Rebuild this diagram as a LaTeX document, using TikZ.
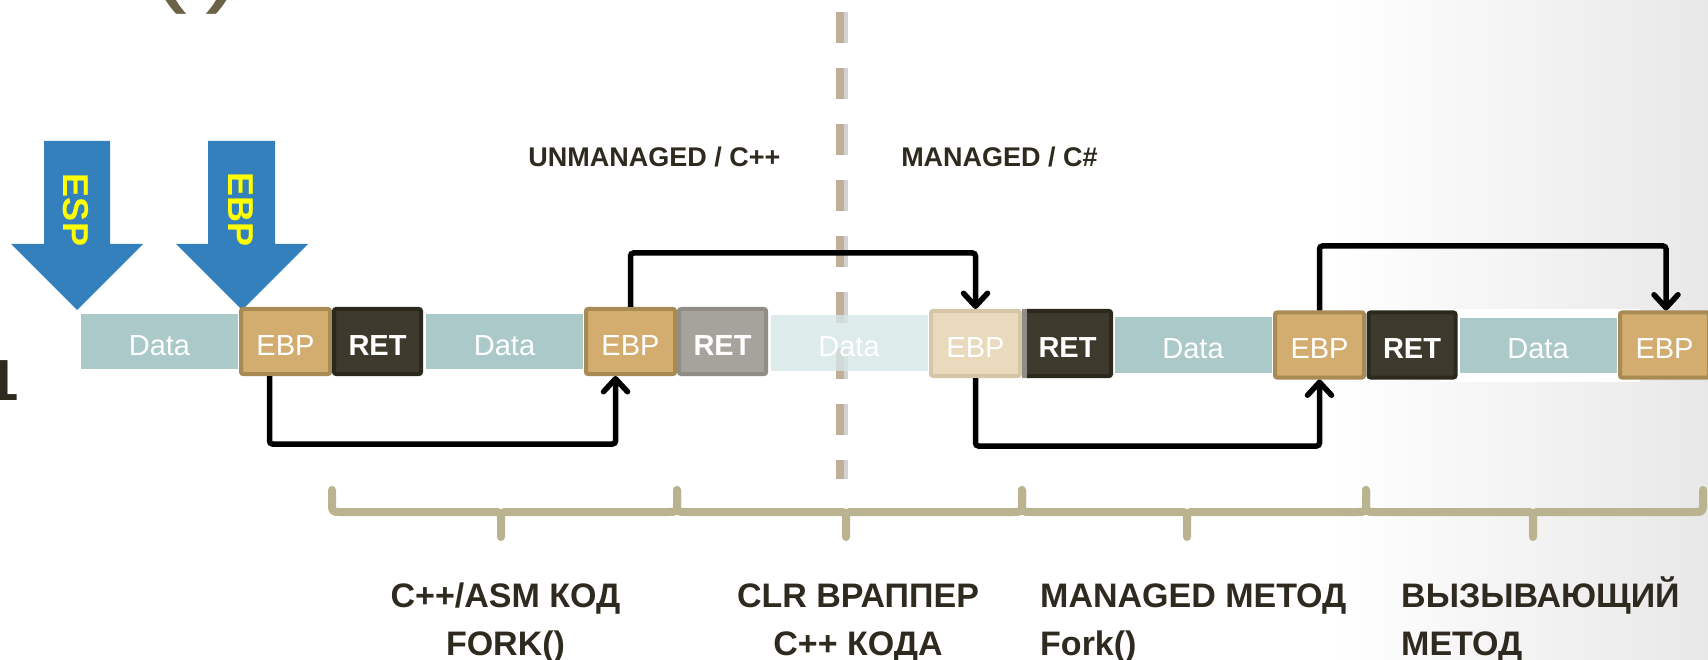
\documentclass[tikz,border=0pt]{standalone}
\usepackage{fontspec}
\setmainfont{Liberation Sans}
\usetikzlibrary{arrows.meta,calc}
\definecolor{arrblue}{HTML}{3380BC}
\definecolor{arryel}{HTML}{FFFF00}
\definecolor{dtea}{HTML}{ABC9C9}
\definecolor{dteafade}{HTML}{D6E6E6}
\definecolor{ebpf}{HTML}{D2AD6F}
\definecolor{ebpd}{HTML}{A88A54}
\definecolor{ebpfadef}{HTML}{E9DABD}
\definecolor{ebpfaded}{HTML}{D6C6A6}
\definecolor{retf}{HTML}{3D392C}
\definecolor{retd}{HTML}{2B281E}
\definecolor{retgf}{HTML}{A5A39C}
\definecolor{retgd}{HTML}{8F8D86}
\definecolor{darktxt}{HTML}{2E2A1F}
\definecolor{brc}{HTML}{B9B38F}
\definecolor{dashc}{HTML}{C0AE98}
\definecolor{parc}{HTML}{6B6248}
\definecolor{bgg}{HTML}{E8E8E8}
\begin{document}
\begin{tikzpicture}[x=1pt,y=-1pt,
  databox/.style={rectangle, inner sep=0pt, minimum width=157pt, minimum height=55pt,
    fill=dtea, text=white, font=\fontsize{29}{34}\selectfont, text height=27pt, text depth=0pt},
  ebpbox/.style={rectangle, rounded corners=2pt, inner sep=0pt, minimum width=89pt, minimum height=65pt,
    fill=ebpf, draw=ebpd, line width=4pt, text=white, font=\fontsize{29}{34}\selectfont,
    text height=27pt, text depth=0pt},
  retbox/.style={ebpbox, fill=retf, draw=retd, minimum width=87pt, font=\bfseries\fontsize{29}{34}\selectfont},
  conn/.style={line width=5.5pt, rounded corners=3pt, -{Straight Barb[length=13pt,width=24pt,round]}},
  brace/.style={draw=brc, line width=8pt, line cap=round, line join=round},
  toplbl/.style={inner sep=0pt, anchor=base, text=darktxt, font=\bfseries\fontsize{27}{32}\selectfont},
  lbl/.style={inner sep=0pt, text=darktxt, font=\bfseries\fontsize{34}{40}\selectfont},
  reglbl/.style={inner sep=0pt, text=arryel, font=\bfseries\fontsize{36}{40}\selectfont, rotate=-90}
]
\useasboundingbox (0,0) rectangle (1708,660);
\fill[white] (0,0) rectangle (1708,660);
\shade[left color=white, right color=bgg] (1330,0) rectangle (1708,660);
\fill[white] (1440,309) rectangle (1640,382);

% partial texts at edges
\node[anchor=base west, inner sep=0pt, text=parc, font=\fontsize{120}{120}\selectfont] (par) at (147,-10) {(\kern18pt)};
\node[anchor=base east, inner sep=0pt, text=darktxt, font=\bfseries\fontsize{58}{60}\selectfont] (one) at (19,400) {1};

% register arrows
\fill[arrblue] (44,141) -- (110,141) -- (110,244) -- (143,244) -- (77,310) -- (11,244) -- (44,244) -- cycle;
\fill[arrblue] (208,141) -- (275,141) -- (275,244) -- (308,244) -- (242,310) -- (176,244) -- (208,244) -- cycle;
\node[reglbl] (esp) at (76,210) {ESP};
\node[reglbl] (ebpreg) at (241,210) {EBP};

% divider
\draw[line width=8pt, draw=gray, opacity=0.35, dash pattern=on 31pt off 25pt] (844,12) -- (844,479);
\draw[line width=8pt, draw=dashc, dash pattern=on 31pt off 25pt] (840,12) -- (840,479);

% top labels
\node[toplbl] (unm) at (654.5,167) {UNMANAGED / C++};
\node[toplbl] (man) at (999.5,167) {MANAGED / C\#};

% stack row
\node[databox] (d1) at (159.5,341.5) {Data};
\node[ebpbox] (ebp1) at (285.5,341.5) {EBP};
\node[retbox] (ret1) at (377.5,341.5) {RET};
\node[databox] (d2) at (504.5,341.5) {Data};
\node[ebpbox] (ebp2) at (630.5,341.5) {EBP};
\node[retbox, fill=retgf, draw=retgd] (ret2) at (722.5,341.5) {RET};
\node[databox, fill=dteafade, fill opacity=0.8, text opacity=1] (d3) at (849,343) {Data};
\node[ebpbox, fill=ebpfadef, draw=ebpfaded] (ebp3) at (975.5,343.5) {EBP};
\node[retbox] (ret3) at (1067.5,343.5) {RET};
\fill[retgd] (ret3.north west) rectangle ([xshift=5pt]ret3.south west);
\node[databox] (d4) at (1193,345) {Data};
\node[ebpbox] (ebp4) at (1319.5,345) {EBP};
\node[retbox] (ret4) at (1412,345) {RET};
\node[databox] (d5) at (1538,345.5) {Data};
\node[ebpbox] (ebp5) at (1664.5,345) {EBP};

% frame links
\coordinate (y1) at (0,444);
\coordinate (y2) at (0,253);
\coordinate (y3) at (0,446);
\coordinate (y4) at (0,246);
\draw[conn] ([xshift=-16pt]ebp1.south) -- ([xshift=-16pt]ebp1.south |- y1)
   -- ([xshift=-15pt]ebp2.south |- y1) -- ([xshift=-15pt]ebp2.south);
\draw[conn] (ebp2.north) -- (ebp2.north |- y2) -- (ebp3.north |- y2) -- (ebp3.north);
\draw[conn] (ebp3.south) -- (ebp3.south |- y3) -- (ebp4.south |- y3) -- (ebp4.south);
\draw[conn] (ebp4.north) -- (ebp4.north |- y4) -- ([xshift=1.5pt]ebp5.north |- y4) -- ([xshift=1.5pt]ebp5.north);

% braces
\foreach \a/\m/\b in {332/501/677, 677/846/1022, 1022/1187/1366, 1366/1533/1703} {
  \draw[brace] (\a,490) -- (\a,503) .. controls (\a,512) .. ({\a+9},512) -- ({\m-8},512)
     .. controls (\m,512) .. (\m,521) -- (\m,537);
  \draw[brace] (\m,521) .. controls (\m,512) .. ({\m+8},512) -- ({\b-9},512)
     .. controls (\b,512) .. (\b,503) -- (\b,490);
}

% bottom labels
\node[lbl, anchor=base] (l1a) at (505.5,607) {C++/ASM КОД};
\node[lbl, anchor=base] (l1b) at (505.5,655) {FORK()};
\node[lbl, anchor=base] (l2a) at (858,607) {CLR ВРАППЕР};
\node[lbl, anchor=base] (l2b) at (858,655) {C++ КОДА};
\node[lbl, anchor=base west] (l3a) at (1040,607) {MANAGED МЕТОД};
\node[lbl, anchor=base west] (l3b) at (1040,655) {Fork()};
\node[lbl, anchor=base west] (l4a) at (1401,607) {ВЫЗЫВАЮЩИЙ};
\node[lbl, anchor=base west] (l4b) at (1401,655) {МЕТОД};
\end{tikzpicture}
\end{document}
